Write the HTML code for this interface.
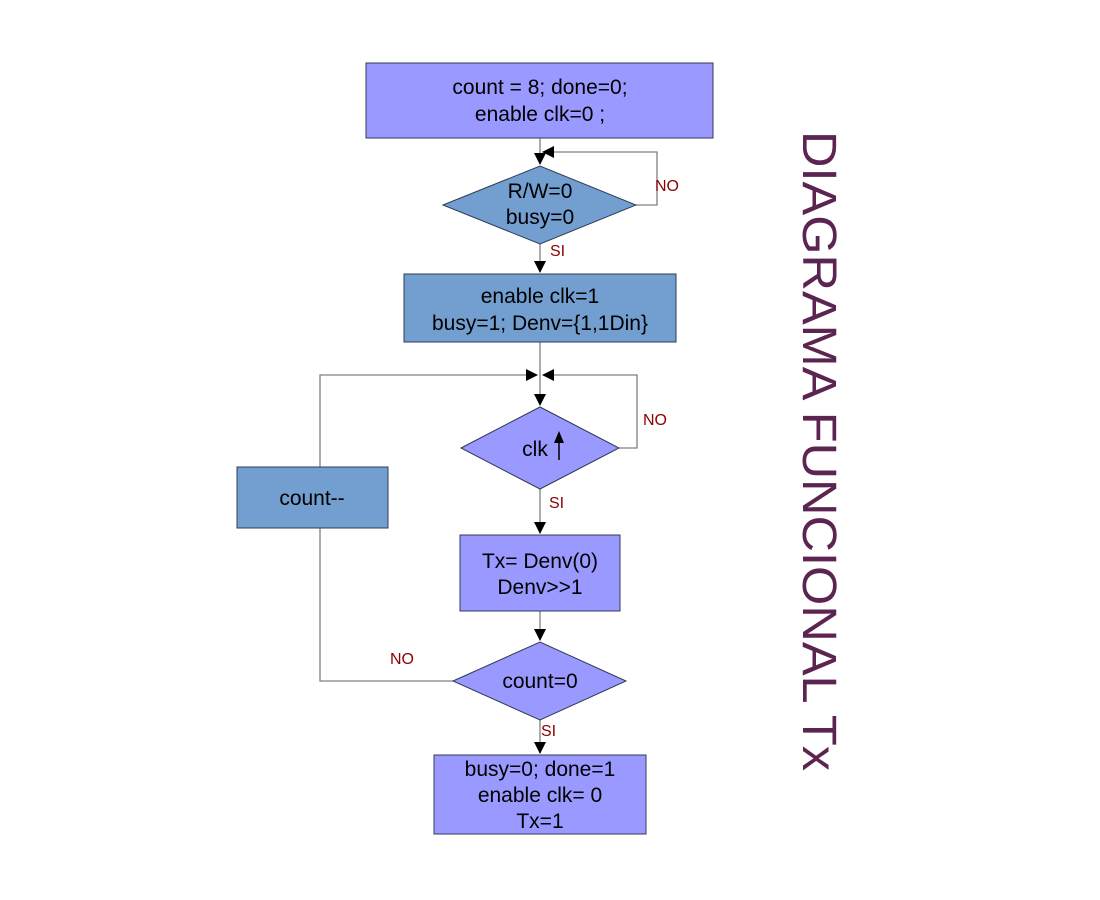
<!DOCTYPE html>
<html><head><meta charset="utf-8"><style>html,body{margin:0;padding:0;background:#fff}svg{display:block}</style></head>
<body>
<svg width="1100" height="900" viewBox="0 0 1100 900" xmlns="http://www.w3.org/2000/svg" font-family="Liberation Sans, sans-serif">
<defs>
<marker id="a" markerWidth="12" markerHeight="12" refX="11" refY="6" orient="auto" markerUnits="userSpaceOnUse"><path d="M0,0 L12,6 L0,12 z" fill="#000"/></marker>
</defs>
<g stroke="#808080" stroke-width="1.3" fill="none">
<line x1="540" y1="138" x2="540" y2="164" marker-end="url(#a)"/>
<polyline points="636,205 657,205 657,152 543,152" marker-end="url(#a)"/>
<line x1="540" y1="244" x2="540" y2="272" marker-end="url(#a)"/>
<line x1="540" y1="342" x2="540" y2="405" marker-end="url(#a)"/>
<polyline points="619,448 637,448 637,375 543,375" marker-end="url(#a)"/>
<polyline points="320,467 320,375 537,375" marker-end="url(#a)"/>
<line x1="540" y1="489" x2="540" y2="533" marker-end="url(#a)"/>
<line x1="540" y1="611" x2="540" y2="640" marker-end="url(#a)"/>
<polyline points="453,681 320,681 320,528"/>
<line x1="540" y1="720" x2="540" y2="753" marker-end="url(#a)"/>
</g>
<g stroke="#2f3b55" stroke-width="1">
<rect x="366" y="63" width="347" height="75" fill="#9999ff"/>
<polygon points="443,205 540,166 636,205 540,244" fill="#729fcf"/>
<rect x="404" y="274" width="272" height="68" fill="#729fcf"/>
<polygon points="461,448 540,407 619,448 540,489" fill="#9999ff"/>
<rect x="237" y="467" width="151" height="61" fill="#729fcf"/>
<rect x="460" y="535" width="160" height="76" fill="#9999ff"/>
<polygon points="453,681 540,642 626,681 540,720" fill="#9999ff"/>
<rect x="434" y="755" width="212" height="79" fill="#9999ff"/>
</g>
<g font-size="21" fill="#000" text-anchor="middle">
<text x="540" y="94">count = 8; done=0;</text>
<text x="540" y="121">enable clk=0 ;</text>
<text x="540" y="198">R/W=0</text>
<text x="540" y="224">busy=0</text>
<text x="540" y="303">enable clk=1</text>
<text x="540" y="330">busy=1; Denv={1,1Din}</text>
<text x="535" y="456">clk</text>
<text x="312" y="505">count--</text>
<text x="540" y="568">Tx= Denv(0)</text>
<text x="540" y="594">Denv&gt;&gt;1</text>
<text x="540" y="688">count=0</text>
<text x="540" y="776">busy=0; done=1</text>
<text x="540" y="802">enable clk= 0</text>
<text x="540" y="828">Tx=1</text>
</g>
<line x1="559" y1="460" x2="559" y2="438" stroke="#000" stroke-width="1.5"/>
<path d="M554,443 L559,431 L564,443 z" fill="#000"/>
<g font-size="16" fill="#8b0000">
<text x="655" y="191">NO</text>
<text x="550" y="256">SI</text>
<text x="643" y="425">NO</text>
<text x="549" y="508">SI</text>
<text x="390" y="664">NO</text>
<text x="541" y="736">SI</text>
</g>
<text transform="translate(803,131) rotate(90)" font-size="48" fill="#5c2450" textLength="640" lengthAdjust="spacingAndGlyphs">DIAGRAMA FUNCIONAL Tx</text>
</svg>
</body></html>
